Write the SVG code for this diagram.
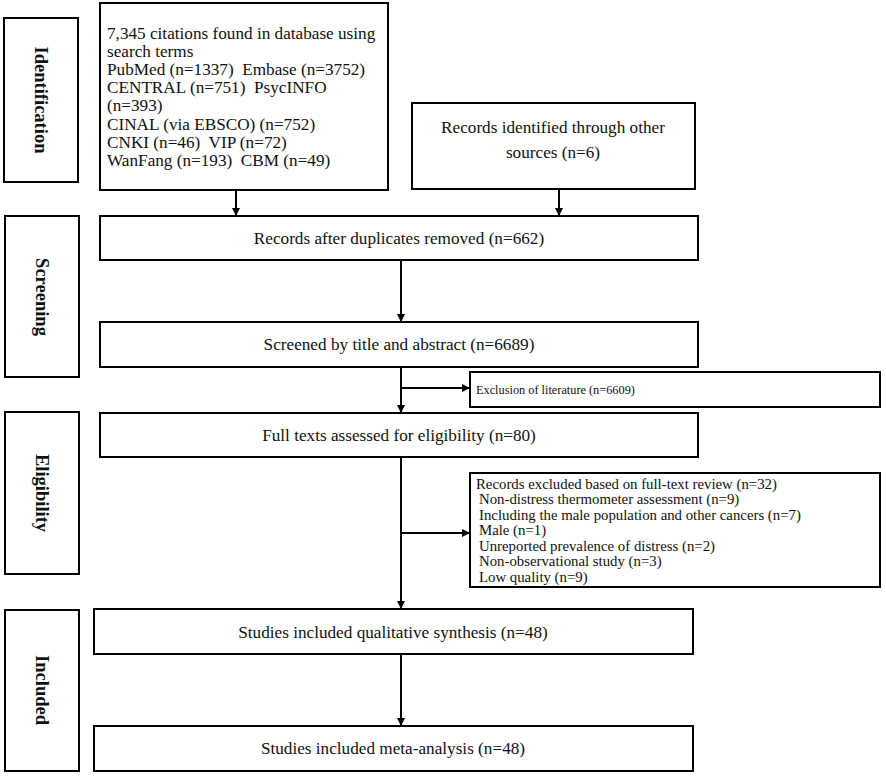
<svg xmlns="http://www.w3.org/2000/svg" width="886" height="777" viewBox="0 0 886 777">
<style>
.box{fill:#fff;stroke:#000;stroke-width:2}
.t{font-family:"Liberation Serif","Times New Roman",serif;font-size:17.2px;fill:#111;white-space:pre}
.c{text-anchor:middle}
.lab{font-family:"Liberation Serif","Times New Roman",serif;font-size:18.5px;font-weight:bold;fill:#111;text-anchor:middle;dominant-baseline:central}
.sm{font-size:12.3px}
.md{font-size:14.8px}
.ln{stroke:#000;stroke-width:2;fill:none}
</style>
<defs>
<marker id="ah" markerWidth="8" markerHeight="8" refX="7" refY="4" orient="auto" markerUnits="userSpaceOnUse">
<path d="M0,0 L8,4 L0,8 Z" fill="#000"/>
</marker>
</defs>
<rect width="886" height="777" fill="#fff"/>
<g id="label-identification"><rect class="box" x="4" y="18" width="74" height="164"/><text class="lab" transform="translate(41,100) rotate(90)">Identification</text></g>
<g id="label-screening"><rect class="box" x="5" y="216" width="74" height="161"/><text class="lab" transform="translate(42,297) rotate(90)">Screening</text></g>
<g id="label-eligibility"><rect class="box" x="5" y="412" width="74" height="162"/><text class="lab" transform="translate(42,493) rotate(90)">Eligibility</text></g>
<g id="label-included"><rect class="box" x="5" y="610" width="74" height="161"/><text class="lab" transform="translate(42,690) rotate(90)">Included</text></g>
<g id="node-database"><rect class="box" x="100" y="3" width="288" height="187"/>
<text class="t" xml:space="preserve">
<tspan x="107" y="38.5">7,345 citations found in database using</tspan>
<tspan x="107" y="56.7">search terms</tspan>
<tspan x="107" y="74.9">PubMed (n=1337)  Embase (n=3752)</tspan>
<tspan x="107" y="93.1">CENTRAL (n=751)  PsycINFO</tspan>
<tspan x="107" y="111.3">(n=393)</tspan>
<tspan x="107" y="129.5">CINAL (via EBSCO) (n=752)</tspan>
<tspan x="107" y="147.7">CNKI (n=46)  VIP (n=72)</tspan>
<tspan x="107" y="165.9">WanFang (n=193)  CBM (n=49)</tspan>
</text></g>
<g id="node-other"><rect class="box" x="412" y="103" width="283" height="86"/>
<text class="t c" x="553" y="133">Records identified through other</text>
<text class="t c" x="553" y="158">sources (n=6)</text></g>
<g id="node-duplicates"><rect class="box" x="100" y="216" width="598" height="44"/><text class="t c" x="399" y="244">Records after duplicates removed (n=662)</text></g>
<g id="node-screened"><rect class="box" x="100" y="322" width="598" height="45"/><text class="t c" x="399" y="350">Screened by title and abstract (n=6689)</text></g>
<g id="node-exclusion"><rect class="box" x="470" y="372" width="410" height="35"/><text class="t sm" x="476" y="394">Exclusion of literature (n=6609)</text></g>
<g id="node-fulltext"><rect class="box" x="100" y="413" width="598" height="44"/><text class="t c" x="399" y="441">Full texts assessed for eligibility (n=80)</text></g>
<g id="node-excluded-fulltext"><rect class="box" x="470" y="473" width="410" height="114"/>
<text class="t md">
<tspan x="476" y="488.5">Records excluded based on full-text review (n=32)</tspan>
<tspan x="479" y="504">Non-distress thermometer assessment (n=9)</tspan>
<tspan x="479" y="519.5">Including the male population and other cancers (n=7)</tspan>
<tspan x="479" y="535">Male (n=1)</tspan>
<tspan x="479" y="550.5">Unreported prevalence of distress (n=2)</tspan>
<tspan x="479" y="566">Non-observational study (n=3)</tspan>
<tspan x="479" y="581.5">Low quality (n=9)</tspan>
</text></g>
<g id="node-qualitative"><rect class="box" x="94" y="609" width="599" height="45"/><text class="t c" x="393" y="638">Studies included qualitative synthesis (n=48)</text></g>
<g id="node-meta"><rect class="box" x="94" y="726" width="599" height="45"/><text class="t c" x="393" y="754">Studies included meta-analysis (n=48)</text></g>
<g id="connectors">
<line class="ln" x1="236" y1="190" x2="236" y2="215" marker-end="url(#ah)"/>
<line class="ln" x1="559" y1="189" x2="559" y2="215" marker-end="url(#ah)"/>
<line class="ln" x1="401" y1="260" x2="401" y2="321" marker-end="url(#ah)"/>
<line class="ln" x1="401" y1="367" x2="401" y2="412" marker-end="url(#ah)"/>
<line class="ln" x1="401" y1="388" x2="469" y2="388" marker-end="url(#ah)"/>
<line class="ln" x1="401" y1="457" x2="401" y2="608" marker-end="url(#ah)"/>
<line class="ln" x1="401" y1="533" x2="469" y2="533" marker-end="url(#ah)"/>
<line class="ln" x1="401" y1="654" x2="401" y2="725" marker-end="url(#ah)"/>
</g>
</svg>
